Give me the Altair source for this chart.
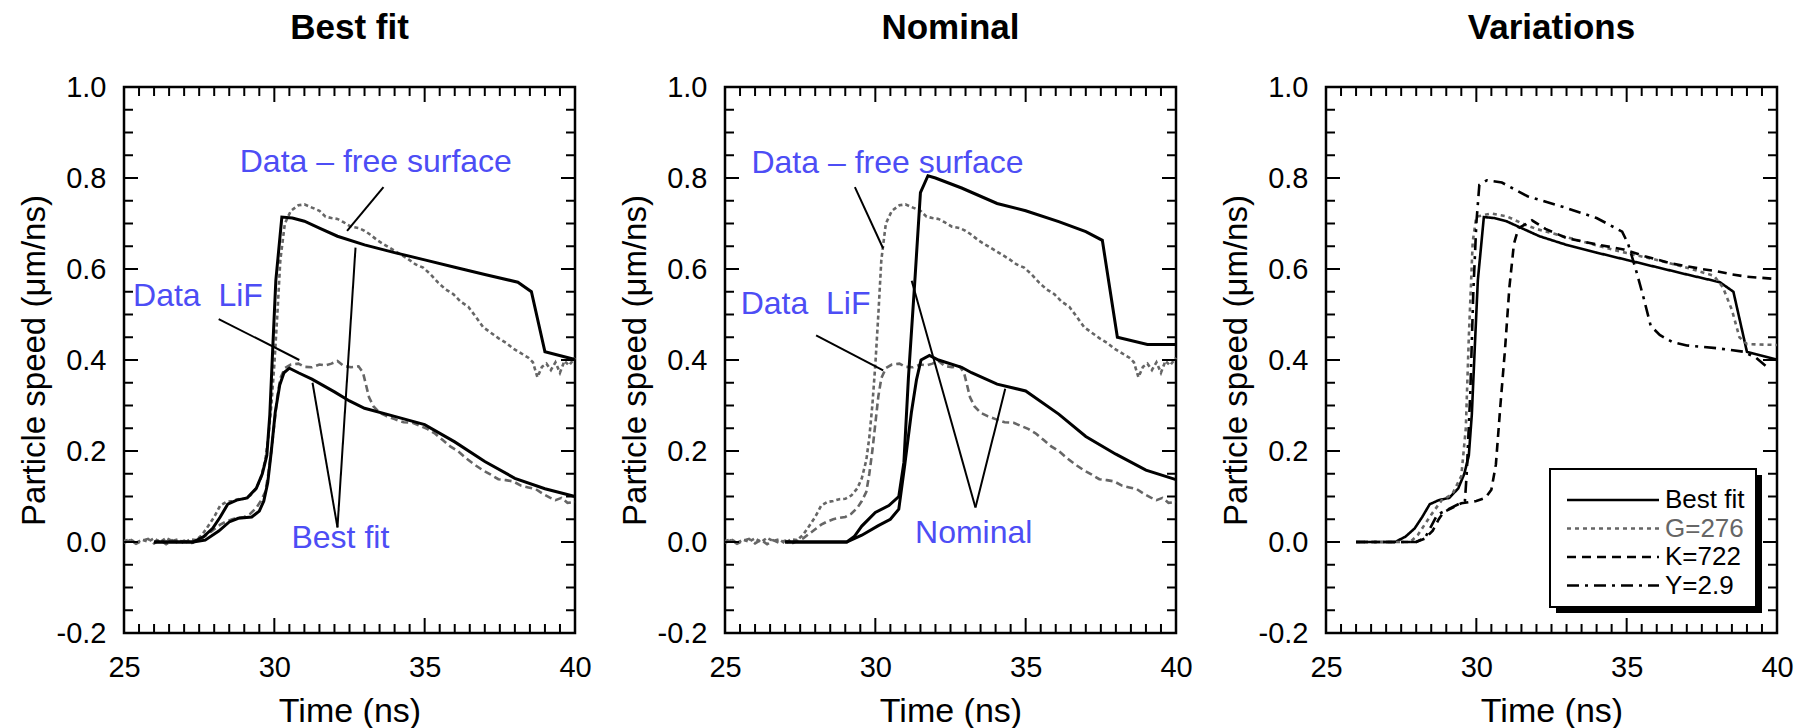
import altair as alt
import pandas as pd

FONT = "Liberation Sans"
BLUE = "#4D4DF5"
GRAY = "#666666"
PW, PH = 451, 546

# ---------------- measured data (shared by panels 1 and 2) ----------------
data_fs_t = [25.0, 25.2, 25.4, 25.6, 25.8, 26.0, 26.2, 26.4, 26.6, 26.8, 27.0, 27.2, 27.4, 27.6, 27.8,
             28.0, 28.2, 28.4, 28.6, 28.8, 29.0, 29.2, 29.4, 29.55, 29.7, 29.8, 29.9, 30.0, 30.1, 30.2,
             30.35, 30.55, 30.8, 31.0, 31.25, 31.5, 31.7, 31.9, 32.1, 32.3, 32.55, 32.8, 33.0, 33.2,
             33.45, 33.7, 33.95, 34.2, 34.45, 34.7, 34.95, 35.2, 35.45, 35.7, 35.95, 36.2, 36.45, 36.7,
             36.95, 37.2, 37.45, 37.7, 37.95, 38.2, 38.45, 38.6, 38.75, 38.9, 39.05, 39.2, 39.35, 39.5,
             39.65, 39.8, 40.0]
data_fs_v = [0.002, 0.006, -0.002, 0.005, 0.001, 0.008, 0.000, 0.009, 0.002, 0.006, -0.003, 0.006, 0.004,
             0.016, 0.035, 0.055, 0.08, 0.088, 0.09, 0.094, 0.095, 0.102, 0.118, 0.14, 0.18, 0.23, 0.3,
             0.39, 0.5, 0.62, 0.7, 0.728, 0.74, 0.742, 0.735, 0.728, 0.715, 0.712, 0.71, 0.703, 0.693,
             0.69, 0.684, 0.675, 0.662, 0.652, 0.642, 0.632, 0.622, 0.61, 0.603, 0.588, 0.57, 0.555,
             0.545, 0.528, 0.517, 0.495, 0.472, 0.46, 0.448, 0.438, 0.425, 0.415, 0.405, 0.395, 0.362,
             0.385, 0.392, 0.378, 0.395, 0.372, 0.398, 0.388, 0.405]

data_lif_t = [25.0, 25.2, 25.4, 25.6, 25.8, 26.0, 26.2, 26.4, 26.6, 26.8, 27.0, 27.2, 27.4, 27.6, 27.8,
              28.0, 28.2, 28.4, 28.6, 28.8, 29.0, 29.2, 29.4, 29.55, 29.7, 29.8, 29.9, 30.0, 30.1, 30.2,
              30.35, 30.55, 30.8, 31.0, 31.25, 31.5, 31.7, 31.9, 32.1, 32.3, 32.55, 32.8, 32.95, 33.05,
              33.15, 33.3, 33.5, 33.75, 34.0, 34.3, 34.6, 34.85, 35.1, 35.35, 35.6, 35.85, 36.1, 36.4,
              36.7, 36.95, 37.2, 37.45, 37.7, 37.95, 38.2, 38.45, 38.7, 38.95, 39.15, 39.35, 39.55, 39.75,
              40.0]
data_lif_v = [-0.002, 0.004, -0.004, 0.003, 0.007, -0.003, 0.005, -0.005, 0.004, -0.002, 0.003, -0.004,
              0.002, 0.008, 0.018, 0.028, 0.038, 0.045, 0.05, 0.053, 0.055, 0.062, 0.075, 0.09, 0.11,
              0.15, 0.2, 0.26, 0.32, 0.36, 0.382, 0.39, 0.392, 0.385, 0.384, 0.39, 0.388, 0.392, 0.398,
              0.387, 0.384, 0.386, 0.372, 0.345, 0.318, 0.298, 0.284, 0.276, 0.27, 0.263, 0.262, 0.255,
              0.248, 0.238, 0.224, 0.21, 0.2, 0.183, 0.168, 0.157, 0.148, 0.138, 0.136, 0.133, 0.124,
              0.12, 0.116, 0.105, 0.098, 0.092, 0.097, 0.086, 0.088]

# ---------------- best-fit simulation ----------------
bf_fs_t = [26.0, 27.3, 27.65, 27.95, 28.2, 28.45, 28.75, 29.1, 29.4, 29.6, 29.75, 29.85, 29.95, 30.05,
           30.25, 30.6, 31.0, 31.5, 32.1, 33.0, 34.0, 35.0, 36.0, 37.0, 38.1, 38.55, 39.0, 40.0]
bf_fs_v = [0.0, 0.0, 0.012, 0.03, 0.055, 0.083, 0.092, 0.097, 0.118, 0.15, 0.19, 0.28, 0.43, 0.575,
           0.714, 0.712, 0.705, 0.69, 0.672, 0.653, 0.636, 0.62, 0.604, 0.588, 0.571, 0.55, 0.418, 0.401]
bf_lif_t = [26.0, 27.3, 27.7, 28.15, 28.5, 28.8, 29.25, 29.5, 29.65, 29.78, 29.9, 30.03, 30.18, 30.32,
            30.5, 30.8, 31.25, 32.0, 32.5, 33.0, 34.0, 35.0, 36.0, 37.0, 38.0, 39.0, 40.0]
bf_lif_v = [0.0, 0.0, 0.004, 0.024, 0.044, 0.052, 0.055, 0.068, 0.09, 0.13, 0.2, 0.285, 0.345, 0.372,
            0.382, 0.372, 0.358, 0.33, 0.31, 0.294, 0.276, 0.258, 0.22, 0.177, 0.14, 0.117, 0.1]

# ---------------- nominal simulation ----------------
nom_fs_t = [27.0, 29.05, 29.3, 29.55, 30.0, 30.45, 30.78, 30.95, 31.1, 31.32, 31.5, 31.75, 32.0, 32.87,
            34.05, 35.0, 36.1, 37.0, 37.55, 38.05, 39.05, 40.0]
nom_fs_v = [0.0, 0.0, 0.012, 0.035, 0.065, 0.08, 0.1, 0.175, 0.36, 0.58, 0.768, 0.805, 0.8, 0.778,
            0.744, 0.728, 0.704, 0.682, 0.663, 0.45, 0.434, 0.434]
nom_lif_t = [27.0, 29.05, 29.55, 30.1, 30.5, 30.78, 30.98, 31.2, 31.37, 31.52, 31.8, 32.1, 32.87, 33.2,
             34.05, 35.0, 36.1, 37.0, 38.0, 39.0, 40.0]
nom_lif_v = [0.0, 0.0, 0.015, 0.036, 0.05, 0.072, 0.17, 0.285, 0.357, 0.4, 0.41, 0.4, 0.384, 0.372,
             0.347, 0.332, 0.281, 0.232, 0.193, 0.158, 0.137]

# ---------------- variations ----------------
g276_t = [26.0, 27.8, 28.05, 28.5, 28.85, 29.2, 29.5, 29.65, 29.75, 29.88, 30.0, 30.5, 31.0, 31.6, 32.0,
          33.0, 34.0, 35.0, 36.0, 37.0, 37.9, 38.2, 38.5, 38.75, 39.0, 40.0]
g276_v = [0.0, 0.0, 0.015, 0.06, 0.092, 0.105, 0.145, 0.25, 0.45, 0.66, 0.715, 0.722, 0.716, 0.698, 0.688,
          0.67, 0.652, 0.635, 0.62, 0.603, 0.585, 0.56, 0.51, 0.45, 0.435, 0.433]
k722_t = [26.0, 28.0, 28.3, 28.55, 28.75, 28.9, 29.2, 29.5, 30.0, 30.3, 30.5, 30.65, 30.8, 30.95, 31.1,
          31.25, 31.4, 31.6, 31.85, 32.3, 33.0, 34.0, 34.9, 35.6, 36.5, 37.5, 38.0, 38.5, 39.0, 40.0]
k722_v = [0.0, 0.0, 0.008, 0.025, 0.05, 0.065, 0.075, 0.085, 0.09, 0.097, 0.115, 0.17, 0.3, 0.42, 0.56,
          0.655, 0.69, 0.697, 0.707, 0.688, 0.668, 0.654, 0.643, 0.628, 0.612, 0.6, 0.595, 0.588, 0.583,
          0.578]
y29_t = [26.0, 28.0, 28.3, 28.5, 28.7, 29.0, 29.4, 29.62, 29.68, 29.8, 29.9, 30.0, 30.1, 30.35, 30.85,
         31.7, 33.0, 34.0, 34.4, 34.85, 35.05, 35.3, 35.55, 35.8, 36.1, 36.5, 37.0, 38.0, 38.9, 39.3, 39.75]
y29_v = [0.0, 0.0, 0.01, 0.035, 0.06, 0.07, 0.083, 0.09, 0.15, 0.33, 0.55, 0.7, 0.785, 0.795, 0.79,
         0.76, 0.734, 0.712, 0.698, 0.682, 0.655, 0.6, 0.54, 0.475, 0.455, 0.44, 0.432, 0.426, 0.418,
         0.405, 0.38]
var_names = ["Best fit", "G=276", "K=722", "Y=2.9"]

# ---------------- annotations ----------------
ann1_labels = ["Data – free surface", "Data\u00a0\u00a0LiF", "Best fit"]
ann1_t = [28.85, 25.3, 30.57]
ann1_v = [0.835, 0.54, 0.008]
seg1_t = [33.63, 28.15, 32.1, 32.1]
seg1_v = [0.78, 0.49, 0.032, 0.032]
seg1_t2 = [32.42, 30.83, 31.27, 32.7]
seg1_v2 = [0.684, 0.40, 0.35, 0.647]

ann2_labels = ["Data – free surface", "Data\u00a0\u00a0LiF", "Nominal"]
ann2_t = [25.88, 25.52, 31.32]
ann2_v = [0.833, 0.524, 0.02]
seg2_t = [29.32, 28.03, 33.33, 33.33]
seg2_v = [0.78, 0.454, 0.076, 0.076]
seg2_t2 = [30.26, 30.26, 31.21, 34.32]
seg2_v2 = [0.645, 0.377, 0.574, 0.337]

# ---------------- axis ticks ----------------
x_major = [25, 30, 35, 40]
x_minor = [25 + 0.5 * i for i in range(1, 30) if i % 10 != 0]
y_major = [-0.2, 0.0, 0.2, 0.4, 0.6, 0.8, 1.0]
y_minor = [round(-0.2 + 0.05 * i, 2) for i in range(1, 24) if i % 4 != 0]

xscale = alt.Scale(domain=[25, 40], nice=False, zero=False)
yscale = alt.Scale(domain=[-0.2, 1.0], nice=False, zero=False)

xaxis = alt.Axis(values=x_major, title="Time (ns)", ticks=False, domain=False, grid=False,
                 labelPadding=20, titlePadding=12, labelFontSize=29, titleFontSize=34,
                 labelFont=FONT, titleFont=FONT, titleFontWeight="normal", labelColor="black",
                 titleColor="black", format="d", labelFlush=False)
yaxis = alt.Axis(values=y_major, title="Particle speed (μm/ns)", ticks=False, domain=False, grid=False,
                 labelPadding=18, titlePadding=5, labelFontSize=29, titleFontSize=33,
                 labelFont=FONT, titleFont=FONT, titleFontWeight="normal", labelColor="black",
                 titleColor="black", labelFlush=False,
                 labelExpr="datum.value < 0 ? '-' + format(-datum.value, '.1f') : format(datum.value, '.1f')")


def X(field="t"):
    return alt.X(f"{field}:Q", scale=xscale, axis=xaxis)


def Y(field="v"):
    return alt.Y(f"{field}:Q", scale=yscale, axis=yaxis)


def tick_layers():
    out = []
    for vals, ln in ((x_major, 15), (x_minor, 9)):
        df = pd.DataFrame({"t": vals})
        out.append(alt.Chart(df).mark_rule(color="black", strokeWidth=2).encode(
            x=X(), y=alt.value(0), y2=alt.value(ln)))
        out.append(alt.Chart(df).mark_rule(color="black", strokeWidth=2).encode(
            x=X(), y=alt.value(PH), y2=alt.value(PH - ln)))
    for vals, ln in ((y_major, 14), (y_minor, 9)):
        df = pd.DataFrame({"v": vals})
        out.append(alt.Chart(df).mark_rule(color="black", strokeWidth=2).encode(
            y=Y(), x=alt.value(0), x2=alt.value(ln)))
        out.append(alt.Chart(df).mark_rule(color="black", strokeWidth=2).encode(
            y=Y(), x=alt.value(PW), x2=alt.value(PW - ln)))
    return out


def line(t, v, color, width, dash=None):
    kw = dict(color=color, strokeWidth=width)
    if dash:
        kw["strokeDash"] = dash
    return alt.Chart(pd.DataFrame({"t": t, "v": v})).mark_line(**kw).encode(x=X(), y=Y())


def annotations(lt, lv, labels, st, sv, st2, sv2):
    segs = pd.DataFrame({"t": st, "v": sv, "t2": st2, "v2": sv2})
    rules = alt.Chart(segs).mark_rule(color="black", strokeWidth=2).encode(
        x=X(), y=Y(), x2="t2:Q", y2="v2:Q")
    texts = alt.Chart(pd.DataFrame({"t": lt, "v": lv, "label": labels})).mark_text(
        align="left", baseline="middle", font=FONT, fontSize=32, color=BLUE).encode(
        x=X(), y=Y(), text="label:N")
    return [rules, texts]


def title(txt):
    return alt.TitleParams(txt, font=FONT, fontSize=35, fontWeight="bold", color="black",
                           anchor="middle", frame="group", baseline="alphabetic", offset=-1)


p1 = alt.layer(
    line(data_fs_t, data_fs_v, GRAY, 2.6, [4, 3]),
    line(data_lif_t, data_lif_v, GRAY, 2.6, [7, 4]),
    line(bf_fs_t, bf_fs_v, "black", 3),
    line(bf_lif_t, bf_lif_v, "black", 3),
    *annotations(ann1_t, ann1_v, ann1_labels, seg1_t, seg1_v, seg1_t2, seg1_v2),
    *tick_layers(),
).properties(width=PW, height=PH, title=title("Best fit"))

p2 = alt.layer(
    line(data_fs_t, data_fs_v, GRAY, 2.6, [4, 3]),
    line(data_lif_t, data_lif_v, GRAY, 2.6, [7, 4]),
    line(nom_fs_t, nom_fs_v, "black", 3),
    line(nom_lif_t, nom_lif_v, "black", 3),
    *annotations(ann2_t, ann2_v, ann2_labels, seg2_t, seg2_v, seg2_t2, seg2_v2),
    *tick_layers(),
).properties(width=PW, height=PH, title=title("Nominal"))

var_frames = []
for name, t, v in zip(var_names, [bf_fs_t, g276_t, k722_t, y29_t], [bf_fs_v, g276_v, k722_v, y29_v]):
    var_frames.append(pd.DataFrame({"t": t, "v": v, "series": name}))
var_df = pd.concat(var_frames, ignore_index=True)

# legend frame (box + drop shadow) in panel pixels; entries placed inside it
BOX_X, BOX_Y, BOX_W, BOX_H, SHADOW = 224, 382, 206, 138, 6
legend = alt.Legend(title=None, orient="none", legendX=BOX_X + 19, legendY=BOX_Y + 18, padding=0,
                    labelFont=FONT, labelFontSize=26,
                    symbolType="M-4.6,0H4.6", symbolSize=400, symbolStrokeWidth=2.5,
                    symbolOffset=31, labelOffset=39, rowPadding=2.5,
                    labelColor={"expr": "datum.label === 'G=276' ? '#666666' : '#000000'"})

var_lines = alt.Chart(var_df).mark_line(strokeWidth=2.6).encode(
    x=X(), y=Y(),
    color=alt.Color("series:N", scale=alt.Scale(domain=var_names,
                                                range=["black", GRAY, "black", "black"]),
                    legend=legend),
    strokeDash=alt.StrokeDash("series:N", scale=alt.Scale(domain=var_names,
                                                          range=[[1, 0], [4, 4], [9, 6], [12, 6, 3, 6]]),
                              legend=legend),
)

box_src = pd.DataFrame({"a": [0]})
shadow = alt.Chart(box_src).mark_rect(color="black").encode(
    x=alt.value(BOX_X + SHADOW), x2=alt.value(BOX_X + BOX_W + SHADOW),
    y=alt.value(BOX_Y + SHADOW), y2=alt.value(BOX_Y + BOX_H + SHADOW))
box = alt.Chart(box_src).mark_rect(fill="white", stroke="black", strokeWidth=2).encode(
    x=alt.value(BOX_X), x2=alt.value(BOX_X + BOX_W),
    y=alt.value(BOX_Y), y2=alt.value(BOX_Y + BOX_H))

p3 = alt.layer(
    var_lines,
    shadow,
    box,
    *tick_layers(),
).properties(width=PW, height=PH, title=title("Variations"))

chart = alt.hconcat(p1, p2, p3, spacing=24).resolve_legend(
    color="independent", strokeDash="independent"
).properties(
    padding={"left": 16, "top": 9, "right": 5, "bottom": 0},
    background="white",
).configure_view(stroke="black", strokeWidth=2.5)

chart.save("out.html", embed_options={"renderer": "svg", "actions": False})
